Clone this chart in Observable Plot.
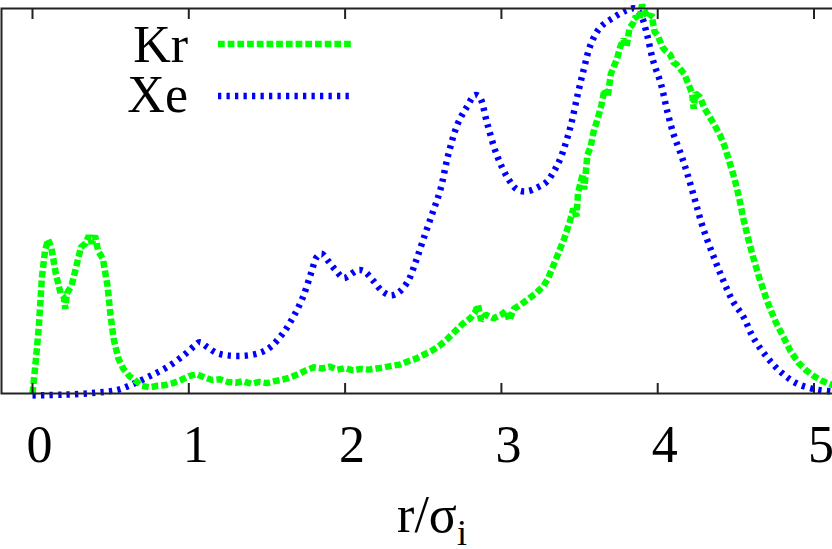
<!DOCTYPE html>
<html>
<head>
<meta charset="utf-8">
<script src="https://cdn.jsdelivr.net/npm/d3@7"></script>
<script src="https://cdn.jsdelivr.net/npm/@observablehq/plot@0.6"></script>
<style>
  html, body { margin: 0; padding: 0; background: #fff; overflow: hidden; }
  svg { display: block; }
</style>
</head>
<body>
<div id="chart"></div>
<script>
// ---- data ----
const xTicks = [0, 1, 2, 3, 4, 5];
const seriesNames = ["Kr", "Xe"];
const xAxisTitle = "r/σ";
const xAxisSub = "i";

const krX = [0.00,0.02,0.04,0.06,0.08,0.10,0.12,0.15,0.18,0.20,0.21,0.22,0.25,0.28,0.31,0.34,0.36,0.38,0.40,0.42,0.45,0.48,0.50,0.52,0.55,0.58,0.62,0.66,0.70,0.75,0.80,0.85,0.90,0.95,1.00,1.05,1.10,1.15,1.20,1.25,1.30,1.35,1.40,1.45,1.50,1.55,1.60,1.65,1.70,1.75,1.80,1.85,1.90,1.95,2.00,2.05,2.10,2.15,2.20,2.25,2.30,2.35,2.40,2.45,2.50,2.55,2.60,2.65,2.70,2.75,2.80,2.83,2.85,2.87,2.90,2.95,3.00,3.03,3.05,3.08,3.12,3.17,3.22,3.27,3.30,3.33,3.37,3.40,3.44,3.46,3.48,3.49,3.52,3.53,3.55,3.57,3.59,3.62,3.64,3.66,3.68,3.70,3.72,3.74,3.76,3.78,3.80,3.82,3.84,3.86,3.88,3.90,3.92,3.94,3.96,3.98,4.00,4.03,4.05,4.08,4.10,4.12,4.15,4.17,4.20,4.22,4.23,4.24,4.27,4.30,4.33,4.36,4.40,4.43,4.46,4.49,4.52,4.55,4.58,4.61,4.65,4.70,4.75,4.80,4.85,4.90,4.95,5.00,5.05,5.10,5.13];
const krY = [0.0,0.08,0.17,0.30,0.37,0.40,0.38,0.31,0.26,0.25,0.22,0.26,0.28,0.33,0.38,0.39,0.41,0.39,0.41,0.37,0.35,0.28,0.20,0.14,0.09,0.065,0.045,0.033,0.02,0.016,0.02,0.022,0.027,0.035,0.045,0.05,0.042,0.035,0.037,0.03,0.028,0.032,0.025,0.03,0.027,0.032,0.036,0.042,0.05,0.06,0.068,0.065,0.07,0.062,0.066,0.06,0.064,0.062,0.065,0.068,0.072,0.075,0.083,0.09,0.10,0.11,0.123,0.14,0.16,0.18,0.195,0.21,0.23,0.19,0.205,0.195,0.205,0.215,0.19,0.22,0.23,0.245,0.26,0.28,0.30,0.33,0.37,0.40,0.45,0.48,0.46,0.52,0.57,0.53,0.62,0.64,0.68,0.72,0.75,0.79,0.77,0.83,0.85,0.87,0.90,0.92,0.90,0.95,0.96,0.98,0.97,1.01,0.99,0.975,0.985,0.94,0.93,0.90,0.89,0.88,0.86,0.855,0.84,0.83,0.80,0.78,0.74,0.78,0.77,0.74,0.72,0.70,0.67,0.64,0.60,0.56,0.51,0.45,0.40,0.355,0.30,0.24,0.19,0.15,0.11,0.08,0.06,0.045,0.033,0.025,0.02];

const xeX = [0.00,0.20,0.40,0.55,0.65,0.75,0.86,0.97,1.04,1.07,1.12,1.18,1.25,1.35,1.45,1.52,1.60,1.67,1.73,1.78,1.82,1.85,1.89,1.94,1.99,2.02,2.08,2.12,2.18,2.24,2.29,2.34,2.40,2.45,2.50,2.56,2.61,2.66,2.72,2.78,2.83,2.86,2.91,2.97,3.04,3.10,3.16,3.23,3.29,3.34,3.38,3.44,3.49,3.53,3.57,3.63,3.72,3.80,3.85,3.89,3.93,3.97,4.02,4.06,4.10,4.15,4.19,4.24,4.29,4.36,4.42,4.48,4.55,4.61,4.70,4.79,4.89,5.02,5.13];
const xeY = [-0.005,-0.003,0.002,0.01,0.026,0.045,0.068,0.10,0.125,0.133,0.12,0.105,0.099,0.098,0.105,0.12,0.155,0.20,0.25,0.31,0.355,0.363,0.345,0.32,0.30,0.305,0.32,0.318,0.293,0.265,0.255,0.262,0.29,0.34,0.40,0.47,0.53,0.62,0.70,0.745,0.775,0.77,0.70,0.62,0.56,0.53,0.525,0.535,0.55,0.58,0.613,0.69,0.78,0.847,0.905,0.95,0.977,0.995,1.0,0.985,0.935,0.865,0.805,0.735,0.675,0.62,0.57,0.50,0.43,0.353,0.293,0.24,0.198,0.146,0.094,0.055,0.026,0.01,0.005];

// ---- build table ----
const kr = krX.map((x, i) => ({x, y: krY[i], s: seriesNames[0]}));
const xe = xeX.map((x, i) => ({x, y: xeY[i], s: seriesNames[1]}));

const W = 832, H = 549;
const font = "'Liberation Serif', 'Times New Roman', serif";
const krStyle = {color: "#00ff00", dash: "6.7,3", w: 6.5};
const xeStyle = {color: "#0000ff", dash: "3.3,5.2", w: 6.5};

const plot = Plot.plot({
  width: W,
  height: H,
  marginLeft: 1,
  marginRight: -2,
  marginTop: 8,
  marginBottom: 156,
  style: {fontFamily: font, background: "white", overflow: "visible"},
  x: {domain: [-0.1983, 5.131]},
  y: {domain: [0, 1], axis: null},
  marks: [
    Plot.line(xe, {x: "x", y: "y", stroke: xeStyle.color, strokeWidth: xeStyle.w, strokeDasharray: xeStyle.dash, strokeLinecap: "butt", curve: "catmull-rom", clip: false}),
    Plot.line(kr, {x: "x", y: "y", stroke: krStyle.color, strokeWidth: krStyle.w, strokeDasharray: krStyle.dash, strokeLinecap: "butt", strokeLinejoin: "miter", clip: false}),
    Plot.frame({stroke: "#222", strokeWidth: 2}),
    Plot.axisX(xTicks, {anchor: "bottom", tickSize: -10, tickFormat: () => "", label: null, stroke: "#222", strokeWidth: 2}),
    Plot.axisX(xTicks, {anchor: "top", tickSize: -10, tickFormat: () => "", label: null, stroke: "#222", strokeWidth: 2}),
    Plot.axisX(xTicks, {anchor: "bottom", tickSize: 0, tickPadding: 32, dx: 7, fontSize: 52, fill: "#000", label: null, tickFormat: d => String(d)})
  ]
});

document.getElementById("chart").appendChild(plot);

// axis title with subscript
const svg = d3.select(plot);
const t = svg.append("text")
  .attr("x", 432).attr("y", 532).attr("text-anchor", "middle")
  .attr("font-family", font).attr("font-size", 52).attr("fill", "#000");
t.append("tspan").text(xAxisTitle);
t.append("tspan").attr("font-size", 36).attr("dy", 13).text(xAxisSub);

// legend
const legend = [
  Object.assign({name: seriesNames[0], ty: 62, ly: 44}, krStyle),
  Object.assign({name: seriesNames[1], ty: 112, ly: 96}, xeStyle)
];
legend.forEach(l => {
  svg.append("text").attr("x", 188).attr("y", l.ty).attr("text-anchor", "end")
    .attr("font-family", font).attr("font-size", 52).attr("fill", "#000").text(l.name);
  svg.append("line").attr("x1", 218).attr("x2", 353).attr("y1", l.ly).attr("y2", l.ly)
    .attr("stroke", l.color).attr("stroke-width", l.w).attr("stroke-dasharray", l.dash);
});
</script>
</body>
</html>
